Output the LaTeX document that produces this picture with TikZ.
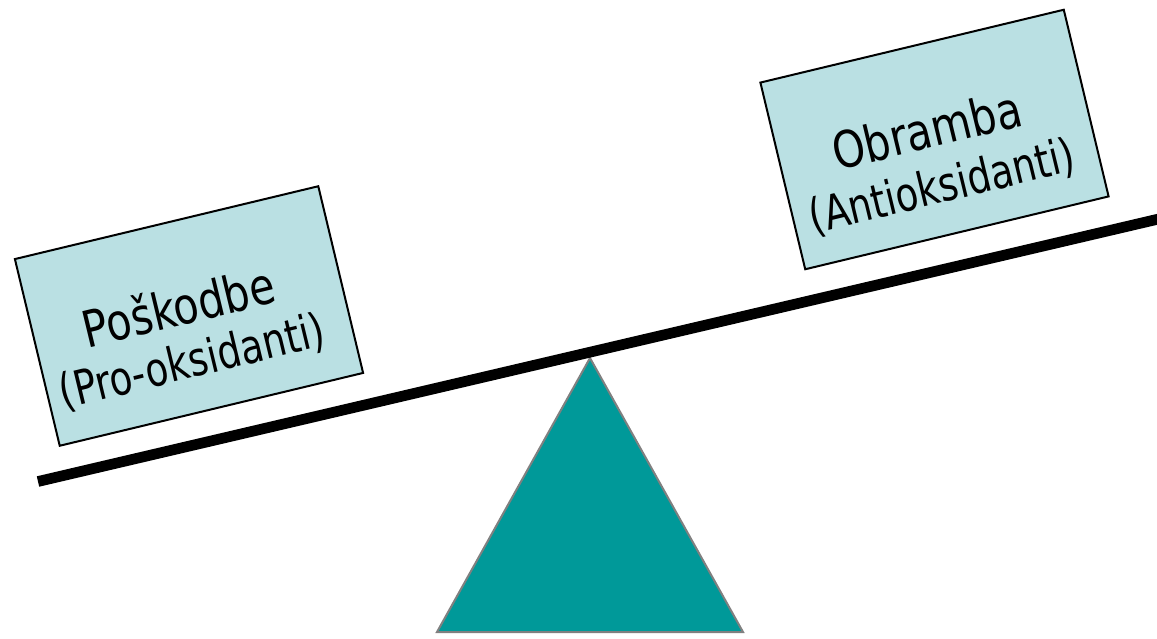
\documentclass[tikz,border=0pt]{standalone}
\usepackage{fontspec}
\setmainfont{DejaVu Sans Condensed}
\definecolor{boxfill}{HTML}{BAE0E3}
\definecolor{teal1}{HTML}{009999}
\definecolor{edgegray}{HTML}{808080}
\newcommand{\tallA}[1]{\scalebox{1}[1.1]{#1}}
\newcommand{\tallB}[1]{\scalebox{1}[1.14]{#1}}
\begin{document}
\begin{tikzpicture}[x=0.75pt,y=-0.75pt,
  panel/.style={draw=black,line width=1.5pt,fill=boxfill,rotate=13.5,minimum width=234pt,minimum height=144pt,inner sep=0pt},
  bigtxt/.style={rotate=13.6,anchor=base,inner sep=0pt,font=\fontsize{34.5}{40}\selectfont},
  smalltxt/.style={rotate=13.6,anchor=base,inner sep=0pt,font=\fontsize{31}{36}\selectfont},
  beam/.style={line width=8pt,black},
  fulcrum/.style={fill=teal1,draw=edgegray,line width=1.5pt,line join=miter}]
\useasboundingbox (0,0) rectangle (1157,639);
% fulcrum
\coordinate (apex) at (590,358);
\coordinate (bl) at (437,632);
\coordinate (br) at (743,632);
\draw[fulcrum] (apex) -- (br) -- (bl) -- cycle;
% beam
\coordinate (bleft) at (38,481.5);
\coordinate (bright) at (1165,217.5);
\draw[beam] (bleft) -- (bright);
% left box
\node[panel] (L) at (189,316) {};
\node[bigtxt] (L1) at (183,325) {\tallA{Poškodbe}};
\node[smalltxt] (L2) at (196,377) {\tallB{(Pro-oksidanti)}};
% right box
\node[panel] (R) at (934.5,139.5) {};
\node[bigtxt] (R1) at (931,148) {\tallA{Obramba}};
\node[smalltxt] (R2) at (946,202) {\tallB{(Antioksidanti)}};
\end{tikzpicture}
\end{document}
